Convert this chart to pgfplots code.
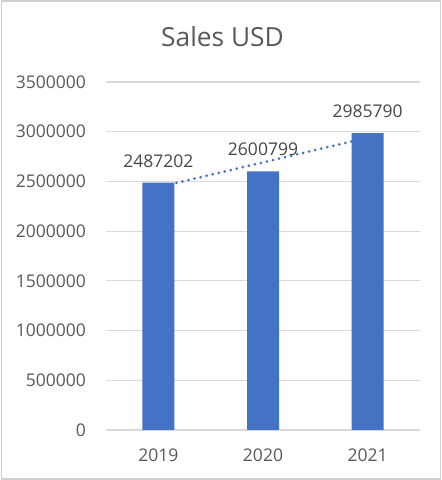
\documentclass[border=0pt]{standalone}
\usepackage{pgfplots}
\pgfplotsset{compat=1.18}
\usepackage{fontspec}
\setmainfont{Open Sans}
\definecolor{txt}{HTML}{595959}
\definecolor{gridc}{HTML}{D9D9D9}
\definecolor{barc}{HTML}{4472C4}
\definecolor{framec}{HTML}{D0D0D0}
\begin{document}
\begin{tikzpicture}[x=1pt,y=1pt]
\useasboundingbox (0,0) rectangle (442,480);
\fill[white] (0,0) rectangle (442,480);
\draw[framec, line width=1.5pt] (1.5,1) rectangle (440.5,479.2);
\node[anchor=base, text=txt, inner sep=0pt, font=\fontsize{26.3}{32}\selectfont] at (222.5,433) {Sales USD};
\begin{axis}[
  at={(106pt,50pt)}, anchor=south west,
  scale only axis, width=314pt, height=348pt,
  xmin=-0.5, xmax=2.5, ymin=0, ymax=3500000,
  xtick={0,1,2}, xticklabels={2019,2020,2021},
  ytick={0,500000,1000000,1500000,2000000,2500000,3000000,3500000},
  yticklabels={0,500000,1000000,1500000,2000000,2500000,3000000,3500000},
  scaled y ticks=false,
  ymajorgrids, grid style={gridc, line width=1.2pt},
  axis line style={draw=none},
  major tick length=0pt,
  tick label style={text=txt, font=\fontsize{17.5}{21}\selectfont, inner sep=0pt},
  yticklabel style={anchor=east, xshift=-20pt},
  xticklabel style={anchor=base, yshift=-32pt},
  /pgf/number format/assume math mode=true,
  clip=false,
]
\addplot[barc, line width=3pt, dash pattern=on 0pt off 6.2pt, line cap=round]
  coordinates {(0,2441969.67) (2,2940557.67)};
\addplot[ybar, bar width=32pt, fill=barc, draw=none,
  point meta=explicit symbolic, nodes near coords,
  every node near coord/.append style={anchor=base, yshift=15.5pt, text=txt!80!black,
    inner sep=0pt, font=\fontsize{17.5}{21}\selectfont}]
  coordinates {(0,2487202) [2487202] (1,2600799) [2600799] (2,2985790) [2985790]};
\end{axis}
\end{tikzpicture}
\end{document}
